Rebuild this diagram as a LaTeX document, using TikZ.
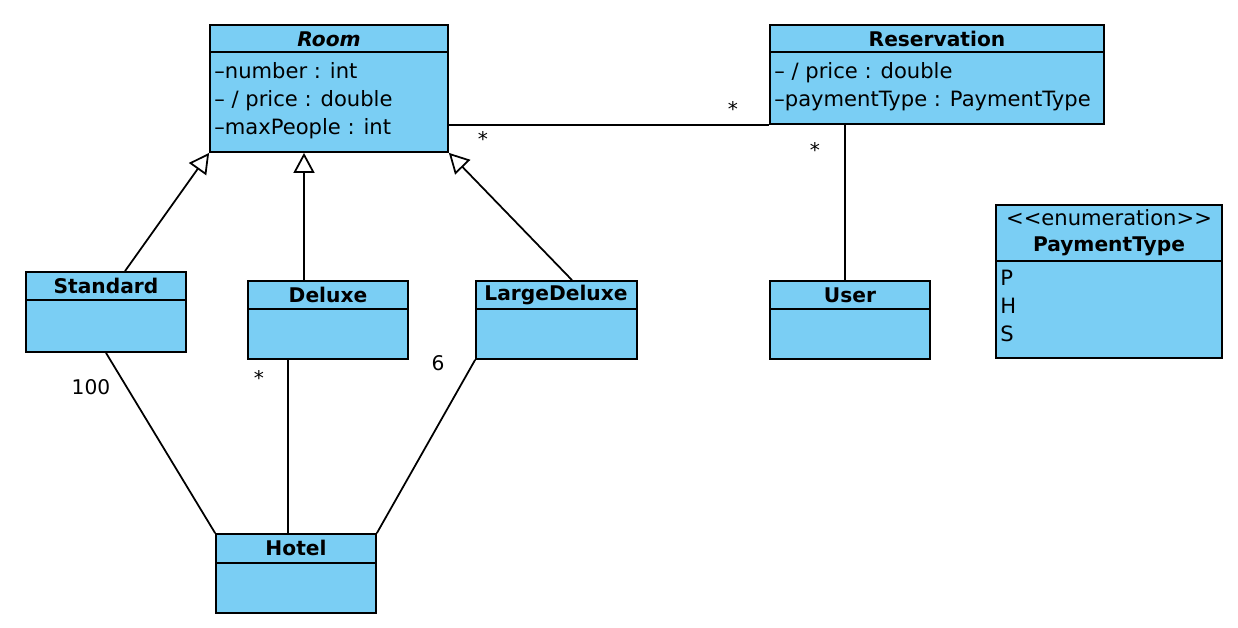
\documentclass[tikz,border=0pt]{standalone}
\usepackage{fontspec}
\setmainfont{DejaVu Sans}
\usetikzlibrary{arrows.meta,positioning,fit}
\definecolor{classblue}{RGB}{122,206,244}

\begin{document}
\begin{tikzpicture}[
    x=0.02cm, y=-0.02cm,
    classbox/.style={draw=black, fill=classblue, line width=1pt, inner sep=0pt},
    divider/.style={draw=black, line width=1pt},
    clstitle/.style={font=\fontsize{11.5}{13}\selectfont\bfseries, inner sep=0pt},
    attrs/.style={align=left, anchor=north west, inner sep=0pt,
      font=\fontsize{12}{15.9}\selectfont},
    mult/.style={anchor=base, inner sep=0pt, font=\fontsize{11.5}{14}\selectfont},
    assoc/.style={draw=black, line width=1pt},
    inherit/.style={assoc, -{Triangle[length=0.4cm, width=0.42cm, fill=white]}}
  ]
  \useasboundingbox (0,0) rectangle (1238,628);

  % Room
  \node[classbox, fit={(210,25) (448,152)}] (room) {};
  \draw[divider] (210,52) -- (448,52);
  \node[clstitle, font=\fontsize{11.5}{13}\selectfont\bfseries\itshape] (roomT) at (329,39) {Room};
  \node[attrs] (roomA) at (214,62) {–number : int\\– / price : double\\–maxPeople : int};

  % Reservation
  \node[classbox, fit={(770,25) (1104,124)}] (reservation) {};
  \draw[divider] (770,52) -- (1104,52);
  \node[clstitle] (reservationT) at (937,39) {Reservation};
  \node[attrs] (reservationA) at (774,62) {– / price : double\\–paymentType : PaymentType};

  % PaymentType
  \node[classbox, fit={(996,205) (1222,358)}] (paymenttype) {};
  \draw[divider] (996,261) -- (1222,261);
  \node[inner sep=0pt, font=\fontsize{12}{14}\selectfont] (enumT) at (1109,218) {<{}<enumeration>{}>};
  \node[clstitle] (paymenttypeT) at (1109,246) {PaymentType};
  \node[attrs] (paymenttypeA) at (1000,270) {P\\H\\S};

  % Subclasses
  \node[classbox, fit={(26,272) (186,352)}] (standard) {};
  \draw[divider] (26,300) -- (186,300);
  \node[clstitle] (standardT) at (106,286) {Standard};

  \node[classbox, fit={(248,281) (408,359)}] (deluxe) {};
  \draw[divider] (248,309) -- (408,309);
  \node[clstitle] (deluxeT) at (328,295) {Deluxe};

  \node[classbox, fit={(476,281) (637,359)}] (largedeluxe) {};
  \draw[divider] (476,309) -- (637,309);
  \node[clstitle] (largedeluxeT) at (556,295) {LargeDeluxe};

  % User
  \node[classbox, fit={(770,281) (930,359)}] (user) {};
  \draw[divider] (770,309) -- (930,309);
  \node[clstitle] (userT) at (850,295) {User};

  % Hotel
  \node[classbox, fit={(216,534) (376,613)}] (hotel) {};
  \draw[divider] (216,563) -- (376,563);
  \node[clstitle] (hotelT) at (296,548) {Hotel};

  % Generalizations
  \draw[inherit] ([xshift=0.38cm]standard.north) -- (room.south west);
  \draw[inherit] ([xshift=-0.48cm]deluxe.north) -- ([xshift=-0.48cm]deluxe.north |- room.south);
  \draw[inherit] ([xshift=0.31cm]largedeluxe.north) -- (room.south east);

  % Associations
  \draw[assoc] (room.east |- reservation.south west) -- (reservation.south west);
  \draw[assoc] ([xshift=-0.1cm]user.north |- reservation.south) -- ([xshift=-0.1cm]user.north);
  \draw[assoc] (standard.south) -- (hotel.north west);
  \draw[assoc] ([xshift=-0.8cm]deluxe.south) -- ([xshift=-0.8cm]deluxe.south |- hotel.north);
  \draw[assoc] (largedeluxe.south west) -- (hotel.north east);

  % Multiplicities
  \node[mult] (mRoom) at (483,147) {*};
  \node[mult] (mRes) at (733,117) {*};
  \node[mult] (mResUser) at (815,158) {*};
  \node[mult] (mDeluxe) at (259,385) {*};
  \node[mult] (mStandard) at (91,395) {100};
  \node[mult] (mLarge) at (438,371) {6};

\end{tikzpicture}
\end{document}
